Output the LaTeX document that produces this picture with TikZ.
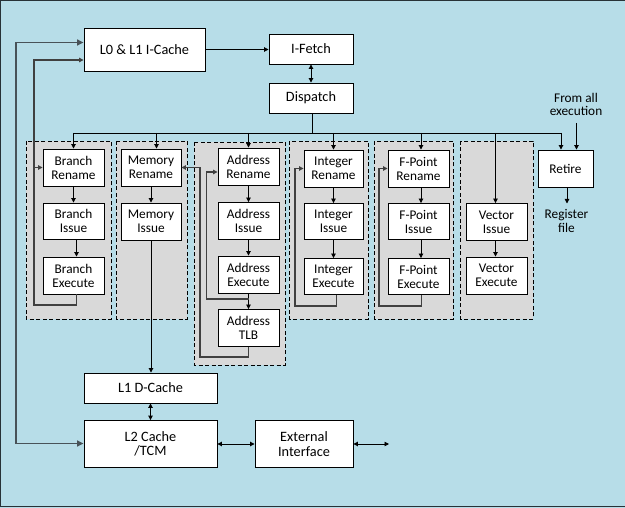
\documentclass[tikz,border=0pt]{standalone}
\usepackage{fontspec}
\setmainfont{Carlito}
\usetikzlibrary{arrows.meta}
\definecolor{bgblue}{RGB}{183,221,232}
\definecolor{grpgray}{RGB}{217,217,217}
\definecolor{loopgray}{RGB}{64,64,64}
\definecolor{sidegray}{RGB}{72,82,88}
\definecolor{framegray}{RGB}{40,50,55}
\begin{document}
\begin{tikzpicture}[x=1pt,y=-1pt,
  box/.style={draw=black, fill=white, line width=0.9pt, align=center, inner sep=0pt,
    font=\fontsize{13.3}{14}\selectfont},
  bigbox/.style={box, font=\fontsize{14.3}{14.3}\selectfont},
  plain/.style={align=center, inner sep=0pt, font=\fontsize{13.3}{13.3}\selectfont},
  grpbox/.style={draw=black, fill=grpgray, line width=0.9pt, dash pattern=on 4pt off 2.5pt},
  tip/.tip={Triangle[length=4.5pt,width=4.5pt]},
  bigtip/.tip={Triangle[length=6.5pt,width=6pt]},
  arr/.style={-tip, line width=0.9pt, draw=black},
  darr/.style={tip-tip, line width=0.9pt, draw=black},
  bus/.style={line width=0.9pt, draw=black},
  loopl/.style={-tip, line width=1.3pt, draw=loopgray},
  sidel/.style={bigtip-bigtip, line width=1.5pt, draw=sidegray}
]
\useasboundingbox (0,0) rectangle (625,508);
\fill[bgblue] (0,0) rectangle (625,508);
\draw[framegray, line width=1pt] (625,0.5) -- (0.5,0.5) -- (0.5,506.5) -- (625,506.5);

% groups
\draw[grpbox] (26,141) rectangle (111,319);
\draw[grpbox] (116,141) rectangle (187,319);
\draw[grpbox] (194,142) rectangle (285,365);
\draw[grpbox] (289,141) rectangle (368,319);
\draw[grpbox] (374,141) rectangle (453,319);
\draw[grpbox] (460,141) rectangle (533,319);

% top boxes
\node[bigbox, minimum width=121pt, minimum height=43pt] (icache) at (144.5,49.5) {L0 \& L1 I-Cache};
\node[bigbox, minimum width=84pt, minimum height=30pt] (ifetch) at (311,49) {I-Fetch};
\node[bigbox, minimum width=84pt, minimum height=30pt] (dispatch) at (311,98) {Dispatch};

% branch
\node[box, minimum width=61pt, minimum height=37pt] (brren) at (73.5,167.5) {Branch\\Rename};
\node[box, minimum width=61pt, minimum height=36pt] (briss) at (73.5,221) {Branch\\Issue};
\node[box, minimum width=61pt, minimum height=37pt] (brexe) at (73.5,275.5) {Branch\\Execute};
% memory
\node[box, minimum width=60pt, minimum height=37pt] (memren) at (151,167.5) {Memory\\Rename};
\node[box, minimum width=60pt, minimum height=37pt] (memiss) at (151,221.5) {Memory\\Issue};
% address
\node[box, minimum width=61pt, minimum height=37pt] (adren) at (248.5,166.5) {Address\\Rename};
\node[box, minimum width=61pt, minimum height=37pt] (adiss) at (248.5,221) {Address\\Issue};
\node[box, minimum width=61pt, minimum height=37pt] (adexe) at (248.5,274.5) {Address\\Execute};
\node[box, minimum width=61pt, minimum height=37pt] (adtlb) at (248.5,328) {Address\\TLB};
% integer
\node[box, minimum width=59pt, minimum height=37pt] (inren) at (333.5,168.5) {Integer\\Rename};
\node[box, minimum width=59pt, minimum height=36pt] (iniss) at (333.5,221.5) {Integer\\Issue};
\node[box, minimum width=59pt, minimum height=36pt] (inexe) at (333.5,276.5) {Integer\\Execute};
% f-point
\node[box, minimum width=61pt, minimum height=37pt] (fpren) at (418.5,168.5) {F-Point\\Rename};
\node[box, minimum width=61pt, minimum height=36pt] (fpiss) at (418.5,221.5) {F-Point\\Issue};
\node[box, minimum width=61pt, minimum height=36pt] (fpexe) at (418.5,276.5) {F-Point\\Execute};
% vector
\node[box, minimum width=61pt, minimum height=37pt] (veciss) at (496.5,222) {Vector\\Issue};
\node[box, minimum width=61pt, minimum height=37pt] (vecexe) at (496.5,275.5) {Vector\\Execute};
% retire
\node[box, minimum width=55pt, minimum height=37pt] (retire) at (565.5,168.5) {Retire};
\node[plain] (fromall) at (576,104.5) {From all\\execution};
\node[plain, anchor=north, inner ysep=6pt] (regfile) at (566.5,203.5) {Register\\file};

% caches
\node[bigbox, minimum width=133pt, minimum height=30pt] (l1d) at (150.5,388) {L1 D-Cache};
\node[bigbox, minimum width=133pt, minimum height=47pt] (l2) at (150.5,444) {L2 Cache\\/TCM};
\node[bigbox, minimum width=98pt, minimum height=47pt] (ext) at (304,444) {External\\Interface};

% coordinates
\coordinate (busL) at (73.5,133);
\coordinate (busR) at (561,133);
\coordinate (oT) at (16,42.5);
\coordinate (oB) at (16,443.5);
\coordinate (iT) at (34,60);
\coordinate (iB) at (34,305);
\coordinate (a1) at (206.5,299);
\coordinate (a2) at (206.5,172);
\coordinate (t1) at (200,357);
\coordinate (n1) at (295,306);
\coordinate (f1) at (379,306);
\coordinate (fa) at (576.5,123);
\coordinate (extout) at (389,444);

% front end
\draw[arr] (icache.east) -- (ifetch.west |- icache.east);
\draw[darr] (ifetch.south) -- (dispatch.north);
\draw[bus] ([xshift=1pt]dispatch.south) -- ([xshift=1pt]dispatch.south |- busL);
\draw[bus] (busL) -- (busR);
\draw[arr] (brren.north |- busL) -- (brren.north);
\draw[arr] ([xshift=5.5pt]memren.north |- busL) -- ([xshift=5.5pt]memren.north);
\draw[arr] (adren.north |- busL) -- (adren.north);
\draw[arr] (inren.north |- busL) -- (inren.north);
\draw[arr] ([xshift=2.5pt]fpren.north |- busL) -- ([xshift=2.5pt]fpren.north);
\draw[arr] ([xshift=-1pt]veciss.north |- busL) -- ([xshift=-1pt]veciss.north);
\draw[arr] (busR) -- (busR |- retire.north);
\draw[arr] (fa) -- (fa |- retire.north);
\draw[arr] ([xshift=1.5pt]retire.south) -- ([xshift=0.5pt]regfile.north);

% pipelines
\draw[arr] (brren.south) -- (briss.north);
\draw[arr] ([xshift=3pt]briss.south) -- ([xshift=3pt]brexe.north);
\draw[arr] (memren.south) -- (memiss.north);
\draw[arr] (adren.south) -- (adiss.north);
\draw[arr] (adiss.south) -- (adexe.north);
\draw[arr] (adexe.south) -- (adtlb.north);
\draw[arr] (inren.south) -- (iniss.north);
\draw[arr] (iniss.south) -- (inexe.north);
\draw[arr] ([xshift=2.5pt]fpren.south) -- ([xshift=2.5pt]fpiss.north);
\draw[arr] ([xshift=2.5pt]fpiss.south) -- ([xshift=2.5pt]fpexe.north);
\draw[arr] ([xshift=-1pt]veciss.south) -- ([xshift=-1pt]vecexe.north);

% loops
\draw[loopl] ([xshift=3pt]brexe.south) |- (iB) -- (iT) -- (icache.west |- iT);
\draw[loopl] (iB |- brren.west) -- (brren.west);
\draw[loopl] (adexe.south |- a1) -- (a1) -- (a2) -- (adren.west |- a2);
\draw[loopl] (adtlb.south) |- (t1) -- (t1 |- memren.east) -- (memren.east);
\draw[loopl] ([xshift=3pt]inexe.south) |- (n1) |- (inren.west);
\draw[loopl] ([xshift=3pt]fpexe.south) |- (f1) |- (fpren.west);

% outer side line
\draw[sidel] (icache.west |- oT) -- (oT) -- (oB) -- (l2.west |- oB);

% memory side
\draw[arr] (memiss.south) -- (memiss.south |- l1d.north);
\draw[darr] (l1d.south) -- (l2.north);
\draw[darr] (l2.east) -- (ext.west);
\draw[darr] (ext.east) -- (extout);
\end{tikzpicture}
\end{document}
